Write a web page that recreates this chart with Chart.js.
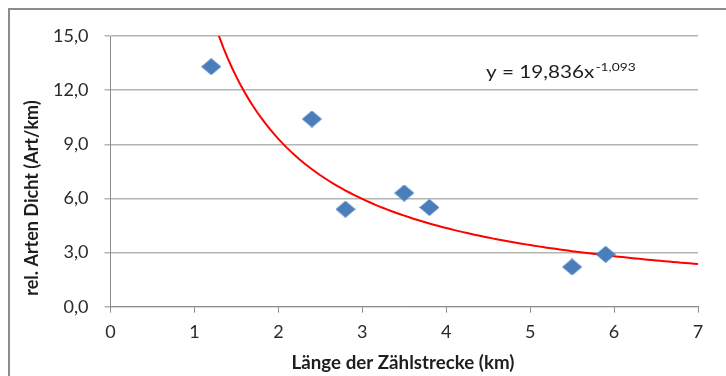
<!DOCTYPE html>
<html>
<head>
<meta charset="utf-8">
<script src="https://cdn.jsdelivr.net/npm/chart.js@4/dist/chart.umd.min.js"></script>
<style>
  html, body { margin: 0; padding: 0; background: #ffffff; }
  #wrap { position: relative; width: 726px; height: 376px; }
</style>
</head>
<body>
<div id="wrap"><canvas id="c" width="726" height="376"></canvas></div>
<script>
// ---- data ----
const laenge = [1.2, 2.4, 2.8, 3.5, 3.8, 5.5, 5.9];          // Länge der Zählstrecke (km)
const dichte = [13.3, 10.4, 5.4, 6.3, 5.5, 2.2, 2.9];         // rel. Arten Dicht (Art/km)
const xTicks = [0, 1, 2, 3, 4, 5, 6, 7];
const yTicks = [0, 3, 6, 9, 12, 15];
// power trendline as printed on the chart: y = 19,836 x^-1,093
const TREND_A = 19.836;
const TREND_B = -1.093;
const trendFrom = 1.2, trendTo = 7.0;

const xTitle = 'Länge der Zählstrecke (km)';
const yTitle = 'rel. Arten Dicht (Art/km)';
const eqMain = 'y = 19,836x';
const eqSup = '-1,093';

const trendX = [];
for (let i = 0; i <= 116; i++) trendX.push(trendFrom + (trendTo - trendFrom) * i / 116);
const trendPts = trendX.map(x => ({ x: x, y: TREND_A * Math.pow(x, TREND_B) }));

// diamond marker (slightly flattened like the original)
function diamond(w, h, color) {
  const cv = document.createElement('canvas');
  cv.width = w; cv.height = h;
  const g = cv.getContext('2d');
  g.fillStyle = color;
  g.beginPath();
  g.moveTo(w / 2, 0); g.lineTo(w, h / 2); g.lineTo(w / 2, h); g.lineTo(0, h / 2);
  g.closePath(); g.fill();
  return cv;
}
const marker = diamond(20, 17, '#4A7EBB');

const FONT = 'Lato, "Open Sans", "DejaVu Sans", sans-serif';
const TEXT = '#1e1e1e';

function stretchedText(ctx, text, x, y, sx, align) {
  ctx.save();
  ctx.translate(x, y);
  ctx.scale(sx, 1);
  ctx.textAlign = align;
  ctx.fillText(text, 0, 0);
  ctx.restore();
}

const decor = {
  id: 'decor',
  beforeDraw(chart) {
    const ctx = chart.ctx;
    ctx.save();
    ctx.fillStyle = '#8c8c8c';
    ctx.fillRect(8, 8, 726, 2);
    ctx.fillRect(8, 8, 2, 376);
    ctx.restore();
  },
  afterDraw(chart) {
    const ctx = chart.ctx;
    const xs = chart.scales.x, ys = chart.scales.y;
    ctx.save();
    ctx.fillStyle = TEXT;
    ctx.font = 'bold 18px ' + FONT;
    ctx.textBaseline = 'alphabetic';
    stretchedText(ctx, xTitle, 403, 369, 1.04, 'center');
    ctx.translate(38, 198);
    ctx.rotate(-Math.PI / 2);
    ctx.scale(1.0, 1.1);
    ctx.textAlign = 'center';
    ctx.fillText(yTitle, 0, 0);
    ctx.restore();

    // equation label
    ctx.save();
    ctx.fillStyle = TEXT;
    ctx.textBaseline = 'alphabetic';
    const ex = xs.getPixelForValue(4.475);
    const ey = ys.getPixelForValue(12.7);
    const sx = 1.15;
    ctx.font = '18px ' + FONT;
    stretchedText(ctx, eqMain, ex, ey, sx, 'left');
    const w = ctx.measureText(eqMain).width * sx;
    ctx.font = '12px ' + FONT;
    stretchedText(ctx, eqSup, ex + w + 1, ey - 7, sx, 'left');
    ctx.restore();
  }
};

new Chart(document.getElementById('c'), {
  type: 'scatter',
  data: {
    datasets: [
      {
        label: 'Trend',
        type: 'line',
        data: trendPts,
        borderColor: '#FF0000',
        borderWidth: 2,
        pointRadius: 0,
        fill: false,
        tension: 0,
        order: 2
      },
      {
        label: 'Daten',
        data: laenge.map((x, i) => ({ x: x, y: dichte[i] })),
        pointStyle: marker,
        pointRadius: 10,
        backgroundColor: '#4A7EBB',
        borderColor: '#4A7EBB',
        order: 1
      }
    ]
  },
  options: {
    responsive: false,
    animation: false,
    devicePixelRatio: 1,
    layout: { padding: { left: 0, top: 36, right: 28, bottom: 29.3 } },
    plugins: { legend: { display: false }, tooltip: { enabled: false } },
    scales: {
      x: {
        type: 'linear',
        min: 0, max: 7,
        afterBuildTicks: s => { s.ticks = xTicks.map(v => ({ value: v })); },
        afterFit: s => { s.height = 40; },
        border: { display: true, color: '#8c8c8c', width: 1 },
        grid: { display: true, drawOnChartArea: false, drawTicks: true, tickLength: 6, color: '#8c8c8c' },
        ticks: { color: '#2a2a2a', font: { family: FONT, size: 18 }, padding: 9, maxRotation: 0, callback: v => String(v) }
      },
      y: {
        type: 'linear',
        min: 0, max: 15,
        afterBuildTicks: s => { s.ticks = yTicks.map(v => ({ value: v })); },
        afterFit: s => { s.width = 110.5; },
        border: { display: true, color: '#8c8c8c', width: 1 },
        grid: { display: true, drawTicks: true, tickLength: 6, color: '#b4b4b4', lineWidth: 1.5 },
        ticks: { color: '#2a2a2a', font: { family: FONT, size: 18 }, padding: 16, callback: v => v.toFixed(1).replace('.', ',') }
      }
    }
  },
  plugins: [decor]
});
</script>
</body>
</html>
